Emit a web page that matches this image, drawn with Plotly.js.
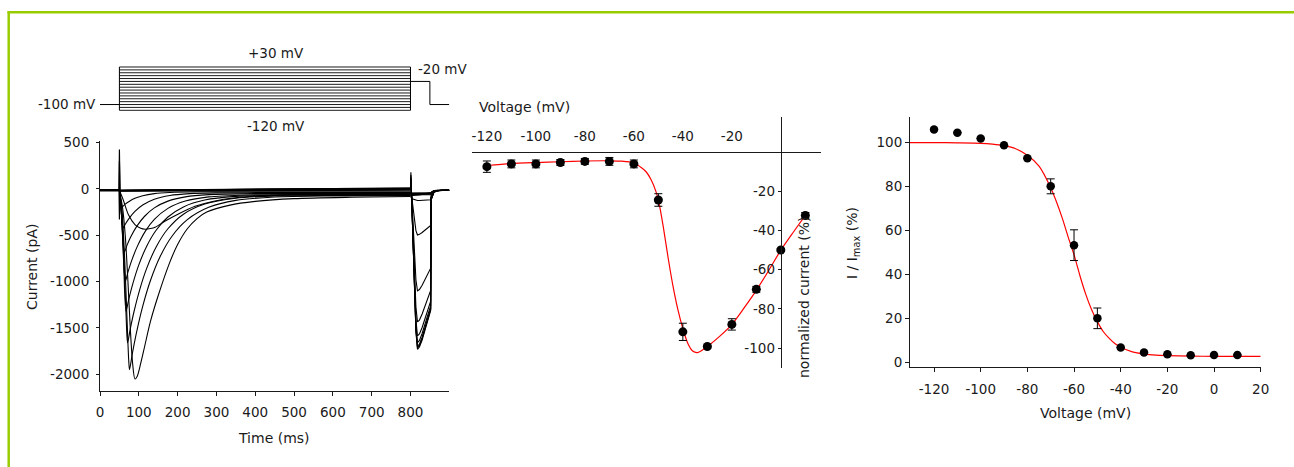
<!DOCTYPE html>
<html>
<head>
<meta charset="utf-8">
<script src="https://cdn.plot.ly/plotly-3.0.1.min.js"></script>
<style>
html,body{margin:0;padding:0;background:#fff;}
#chart{width:1294px;height:467px;}
</style>
</head>
<body>
<div id="chart"></div>
<script>
// ---------------- DATA ----------------
// Voltage protocol (mV) and times (ms)
const protocolSteps = [-120,-110,-100,-90,-80,-70,-60,-50,-40,-30,-20,-10,0,10,20,30];
const protocolHold = -100;
const protocolTail = -20;
const protocolTimes = [0, 50, 800, 850, 900]; // start, step on, step off, tail off, end

// Holding segment
const tHold = [0, 50];
const iHold = [-15, -15];

// Flat sweeps during pulse (-120 ... -60 mV)
const tPulseFlat = [50, 200, 400, 600, 800];
const iPulseM120 = [-22, -20, -18, -15, -12];
const iPulseM110 = [-20, -18, -15, -12, -8];
const iPulseM100 = [-18, -16, -12, -8, -5];
const iPulseM90  = [-16, -12, -8, -4, 0];
const iPulseM80  = [-15, -10, -5, 0, 5];
const iPulseM70  = [-15, -8, -2, 3, 8];
const iPulseM60  = [-20, -12, -4, 2, 6];

// Active sweeps during pulse
const tPulseM50 = [50,60,73,90,105,116,130,142,167,202,245,290,350,450,600,800];
const iPulseM50 = [-18,-120,-277,-385,-425,-435,-428,-414,-349,-270,-187,-135,-95,-70,-58,-52];
const tPulseM40 = [50,58,65,72,78,84,90,96,105,115,130,150,180,200,225,250,275,335,400,500,650,800];
const iPulseM40 = [-18,-200,-500,-1000,-1500,-1880,-2050,-2020,-1880,-1700,-1430,-1150,-790,-600,-430,-320,-250,-175,-135,-105,-90,-82];
const tPulseM30 = [50,57,64,70,74,76,84,95,110,130,155,185,225,280,350,450,600,800];
const iPulseM30 = [-18,-250,-800,-1450,-1850,-1950,-1760,-1531,-1267,-988,-729,-513,-332,-199,-124,-88,-76,-72];
const tPulseM20 = [50,56,63,68,71,78,88,102,120,145,175,215,270,350,450,600,800];
const iPulseM20 = [-18,-250,-900,-1450,-1660,-1509,-1317,-1091,-860,-623,-430,-273,-163,-100,-77,-71,-68];
const tPulseM10 = [50,55,61,67,74,85,100,120,145,175,215,270,350,500,800];
const iPulseM10 = [-18,-250,-800,-1320,-1192,-1016,-820,-620,-443,-303,-194,-120,-81,-66,-62];
const tPulse0 = [50,55,60,65,72,82,97,117,140,175,220,280,380,550,800];
const iPulse0 = [-18,-250,-650,-1000,-897,-768,-612,-455,-329,-210,-131,-86,-65,-60,-58];
const tPulseP10 = [50,55,59,63,70,80,95,115,140,175,220,280,400,550,800];
const iPulseP10 = [-18,-250,-530,-680,-604,-512,-402,-295,-205,-132,-86,-62,-51,-50,-48];
const tPulseP20 = [50,54,57,60,65,75,90,110,140,180,230,300,450,600,800];
const iPulseP20 = [-18,-200,-360,-420,-382,-318,-243,-174,-112,-71,-51,-43,-40,-40,-40];
const tPulseP30 = [50,53,56,58,65,75,90,110,140,180,250,400,600,800];
const iPulseP30 = [-18,-110,-180,-190,-164,-135,-102,-74,-51,-38,-31,-30,-30,-30];

// Tail segment (step to -20 mV, then back to -100 mV)
const tTail = [800,801,803,806,810,814,818,823,830,838,846,852,853,856,860,866,880,900];
const iTailM120 = [-12,180,-100,-480,-1070,-1540,-1730,-1705,-1630,-1520,-1400,-1310,-120,-80,-40,-22,-15,-15];
const iTailM110 = [-8,150,-100,-475,-1060,-1525,-1712,-1690,-1615,-1505,-1390,-1300,-120,-80,-40,-22,-15,-15];
const iTailM100 = [-5,130,-100,-470,-1050,-1510,-1700,-1675,-1600,-1495,-1380,-1290,-115,-78,-40,-22,-15,-15];
const iTailM90  = [0,110,-95,-460,-1025,-1475,-1658,-1635,-1560,-1460,-1345,-1260,-110,-75,-38,-21,-15,-15];
const iTailM80  = [5,90,-90,-440,-980,-1410,-1586,-1565,-1495,-1400,-1290,-1210,-105,-72,-37,-21,-15,-15];
const iTailM70  = [8,70,-85,-400,-890,-1275,-1434,-1415,-1350,-1265,-1170,-1095,-100,-70,-36,-20,-15,-15];
const iTailM60  = [6,50,-75,-310,-690,-980,-1100,-1085,-1040,-975,-905,-855,-95,-65,-35,-20,-15,-15];
const iTailM50  = [-52,-40,-80,-170,-320,-450,-497,-490,-470,-445,-415,-395,-90,-60,-33,-20,-15,-15];
const iTailM40  = [-82,-95,-100,-110,-118,-122,-125,-125,-124,-122,-120,-118,-70,-50,-30,-18,-15,-15];
const iTailM30  = [-72,-75,-70,-68,-66,-65,-64,-64,-63,-63,-62,-62,-50,-40,-25,-18,-15,-15];
const iTailM20  = [-68,-70,-66,-64,-62,-60,-60,-60,-59,-58,-58,-58,-48,-38,-25,-18,-15,-15];
const iTailM10  = [-62,-64,-60,-58,-56,-55,-55,-55,-54,-54,-53,-53,-45,-36,-24,-18,-15,-15];
const iTail0    = [-58,-60,-56,-54,-52,-51,-51,-51,-50,-50,-50,-50,-42,-34,-23,-17,-15,-15];
const iTailP10  = [-48,-52,-50,-49,-48,-48,-48,-48,-47,-47,-47,-47,-40,-32,-22,-17,-15,-15];
const iTailP20  = [-40,-48,-48,-47,-47,-46,-46,-46,-46,-46,-45,-45,-38,-30,-22,-17,-15,-15];
const iTailP30  = [-30,-45,-46,-46,-45,-45,-45,-45,-45,-44,-44,-44,-36,-28,-21,-16,-15,-15];

// Capacitive transients at pulse onset
const tSpikeOn = [49, 50, 51.5];
const iSpikeOnA = [-15, 425, -15];
const iSpikeOnB = [-15, 300, -18];
const iSpikeOnC = [-15, -330, -18];

// Panel 1 ticks
const timeTicks = [0,100,200,300,400,500,600,700,800];
const timeTickText = ['0','100','200','300','400','500','600','700','800'];
const currentTicks = [-2000,-1500,-1000,-500,0,500];
const currentTickText = ['-2000','-1500','-1000','-500','0','500'];

// Panel 2: current-voltage relation
const ivVoltage = [-120,-110,-100,-90,-80,-70,-60,-50,-40,-30,-20,-10,0,10];
const ivCurrent = [-7.4,-6.0,-6.0,-5.3,-4.7,-4.7,-6.0,-24.4,-91.7,-99.2,-87.9,-70.0,-49.9,-32.3];
const ivError   = [2.9,2.0,2.0,1.5,1.5,2.0,2.0,3.2,4.4,0.7,2.9,1.5,0.6,1.5];
const ivFitVoltage = [-120,-110,-100,-90,-80,-70,-65,-60,-57,-55,-53,-51,-50,-48,-46,-44,-42,-40,-38,-36,-34,-32,-30,-25,-20,-15,-10,-5,0,5,10];
const ivFitCurrent = [-6.8,-5.8,-5.3,-4.9,-4.5,-4.4,-4.6,-5.5,-7.8,-10,-14,-20,-24.4,-38,-54,-68.5,-80.5,-90,-97.5,-101.5,-102.3,-101,-99.2,-94,-88,-79.5,-70.5,-60.5,-50,-41,-32.3];
const ivXTicks = [-120,-100,-80,-60,-40,-20];
const ivXTickText = ['-120','-100','-80','-60','-40','-20'];
const ivYTicks = [-100,-80,-60,-40,-20];
const ivYTickText = ['-100','-80','-60','-40','-20'];

// Panel 3: steady-state inactivation
const inactVoltage = [-120,-110,-100,-90,-80,-70,-60,-50,-40,-30,-20,-10,0,10];
const inactRel = [106.0,104.5,101.9,98.8,92.9,80.1,53.3,20.0,6.7,4.4,3.6,3.2,3.3,3.3];
const inactError = [null,null,null,null,null,3.4,7.0,4.7,null,null,null,null,null,null];
const inactFitVoltage = [-130.3,-120,-110,-100,-95,-90,-85,-80,-75,-70,-67.5,-65,-62.5,-60,-57.5,-55,-52.5,-50,-47.5,-45,-42.5,-40,-35,-30,-25,-20,-10,0,10,20];
const inactFitRel = [100,100,99.9,99.7,99.3,98.6,97.2,94.2,89.3,79.5,73,65.5,57,49,39.5,31,24,18.5,14,11,8.5,6.8,4.7,3.7,3.2,3.0,2.8,2.7,2.7,2.7];
const inactXTicks = [-120,-100,-80,-60,-40,-20,0,20];
const inactXTickText = ['-120','-100','-80','-60','-40','-20','0','20'];
const inactYTicks = [0,20,40,60,80,100];
const inactYTickText = ['0','20','40','60','80','100'];

// ---------------- BUILD ----------------
const W = 1294, H = 467;
const FONT = 'DejaVu Sans';
const INK = '#1a1a1a';
const px = v => v / W;
const py = v => 1 - v / H;

const traces = [];
function line(xa, ya, x, y, opt) {
  traces.push({
    type: 'scatter', mode: 'lines', x: x, y: y, xaxis: xa, yaxis: ya,
    hoverinfo: 'skip',
    line: Object.assign({color: '#000', width: 1.1}, opt || {})
  });
}

// Panel 1 sweeps
const flatPulses = [iPulseM120, iPulseM110, iPulseM100, iPulseM90, iPulseM80, iPulseM70, iPulseM60];
flatPulses.forEach(a => line('x', 'y', tPulseFlat, a, {width: 1.3}));
const activePulses = [
  [tPulseM50, iPulseM50], [tPulseM40, iPulseM40], [tPulseM30, iPulseM30], [tPulseM20, iPulseM20],
  [tPulseM10, iPulseM10], [tPulse0, iPulse0], [tPulseP10, iPulseP10], [tPulseP20, iPulseP20], [tPulseP30, iPulseP30]
];
activePulses.forEach(p => line('x', 'y', p[0], p[1], {shape: 'spline', smoothing: 0.8}));
const tails = [iTailM120, iTailM110, iTailM100, iTailM90, iTailM80, iTailM70, iTailM60, iTailM50,
  iTailM40, iTailM30, iTailM20, iTailM10, iTail0, iTailP10, iTailP20, iTailP30];
tails.forEach(a => line('x', 'y', tTail, a));
line('x', 'y', tHold, iHold, {width: 2.6});
[iSpikeOnA, iSpikeOnB, iSpikeOnC].forEach(a => line('x', 'y', tSpikeOn, a, {width: 1.2}));

// Voltage protocol inset
const [t0, tOn, tOff, tTailOff, tEnd] = protocolTimes;
protocolSteps.forEach(v => line('x4', 'y4', [tOn, tOff], [v, v], {width: 0.9}));
const vMin = Math.min(...protocolSteps), vMax = Math.max(...protocolSteps);
line('x4', 'y4', [tOn, tOn], [vMin, vMax], {width: 1});
line('x4', 'y4', [tOff, tOff], [vMin, vMax], {width: 1});
line('x4', 'y4', [t0, tOn], [protocolHold, protocolHold], {width: 1});
line('x4', 'y4', [tOff, tTailOff, tTailOff, tEnd], [protocolTail, protocolTail, protocolHold, protocolHold], {width: 1});

// Panel 2
line('x2', 'y2', ivFitVoltage, ivFitCurrent, {color: '#ff0000', width: 1.2, shape: 'spline', smoothing: 0.6});
traces.push({
  type: 'scatter', mode: 'markers', x: ivVoltage, y: ivCurrent, xaxis: 'x2', yaxis: 'y2', hoverinfo: 'skip',
  marker: {color: '#000', size: 9},
  error_y: {type: 'data', array: ivError, visible: true, color: '#000', thickness: 1, width: 4}
});

// Panel 3
line('x3', 'y3', inactFitVoltage, inactFitRel, {color: '#ff0000', width: 1.2, shape: 'spline', smoothing: 0.6});
traces.push({
  type: 'scatter', mode: 'markers', x: inactVoltage, y: inactRel, xaxis: 'x3', yaxis: 'y3', hoverinfo: 'skip',
  marker: {color: '#000', size: 8.5},
  error_y: {type: 'data', array: inactError, visible: true, color: '#000', thickness: 1, width: 4}
});

const tickFont = {family: FONT, size: 13.5, color: INK};
const axBase = {
  showgrid: false, zeroline: false, showline: true, linecolor: INK, linewidth: 1,
  ticks: 'outside', ticklen: 4, tickwidth: 1, tickcolor: INK, tickfont: tickFont,
  tickmode: 'array', fixedrange: true
};

const layout = {
  width: W, height: H,
  margin: {l: 0, r: 0, t: 0, b: 0, pad: 0},
  paper_bgcolor: '#fff', plot_bgcolor: 'rgba(0,0,0,0)',
  showlegend: false, hovermode: false,
  font: {family: FONT, size: 13, color: INK},
  xaxis: Object.assign({}, axBase, {domain: [px(100), px(449.3)], range: [0, 900], anchor: 'y',
    tickvals: timeTicks, ticktext: timeTickText, ticklabelstandoff: 5}),
  yaxis: Object.assign({}, axBase, {domain: [py(391), py(140.7)], range: [-2180, 520], anchor: 'x',
    tickvals: currentTicks, ticktext: currentTickText, ticklen: 3, ticklabelstandoff: 4}),
  xaxis2: Object.assign({}, axBase, {domain: [px(471.7), px(821)], range: [-126.2, 16.4], anchor: 'free',
    position: py(152.2), side: 'top', tickvals: ivXTicks, ticktext: ivXTickText, ticks: '', ticklabelstandoff: 6}),
  yaxis2: Object.assign({}, axBase, {domain: [py(368.3), py(116.7)], range: [-110.3, 18.1], anchor: 'free',
    position: px(780.7), tickvals: ivYTicks, ticktext: ivYTickText, ticklen: 3}),
  xaxis3: Object.assign({}, axBase, {domain: [px(910), px(1260.7)], range: [-130.3, 20], anchor: 'y3',
    tickvals: inactXTicks, ticktext: inactXTickText, ticklabelstandoff: 5}),
  yaxis3: Object.assign({}, axBase, {domain: [py(367.3), py(116.7)], range: [-2.3, 111.8], anchor: 'x3',
    tickvals: inactYTicks, ticktext: inactYTickText}),
  xaxis4: {domain: [px(100), px(449.3)], range: [0, 900], anchor: 'y4', visible: false, fixedrange: true},
  yaxis4: {domain: [py(113.2), py(64.1)], range: [-130, 40], anchor: 'x4', visible: false, fixedrange: true},
  shapes: [
    {type: 'line', xref: 'paper', yref: 'paper', x0: px(7.5), x1: 1, y0: py(12.3), y1: py(12.3),
      line: {color: '#99cc00', width: 2.5}},
    {type: 'line', xref: 'paper', yref: 'paper', x0: px(8.7), x1: px(8.7), y0: py(11.2), y1: 0,
      line: {color: '#99cc00', width: 2.5}}
  ],
  annotations: []
};

function note(text, x, y, opt) {
  layout.annotations.push(Object.assign({
    text: text, xref: 'paper', yref: 'paper', x: px(x), y: py(y),
    xanchor: 'center', yanchor: 'middle', showarrow: false,
    font: {family: FONT, size: 13.5, color: INK}
  }, opt || {}));
}
note('+30 mV', 276, 53);
note('-120 mV', 276, 126);
note('-20 mV', 416, 69, {xanchor: 'left'});
note('-100 mV', 98, 104.3, {xanchor: 'right'});
note('Current (pA)', 32, 267, {textangle: -90, font: {family: FONT, size: 14, color: INK}});
note('Time (ms)', 274, 438, {font: {family: FONT, size: 14, color: INK}});
note('Voltage (mV)', 477, 107, {xanchor: 'left', font: {family: FONT, size: 14, color: INK}});
note('normalized current (%)', 804, 298, {textangle: -90, font: {family: FONT, size: 14, color: INK}});
note('Voltage (mV)', 1085, 413, {font: {family: FONT, size: 14, color: INK}});
note('I / I<sub>max</sub> (%)', 853, 243, {textangle: -90, font: {family: FONT, size: 14, color: INK}});

Plotly.newPlot('chart', traces, layout, {staticPlot: true, displayModeBar: false});
</script>
</body>
</html>
